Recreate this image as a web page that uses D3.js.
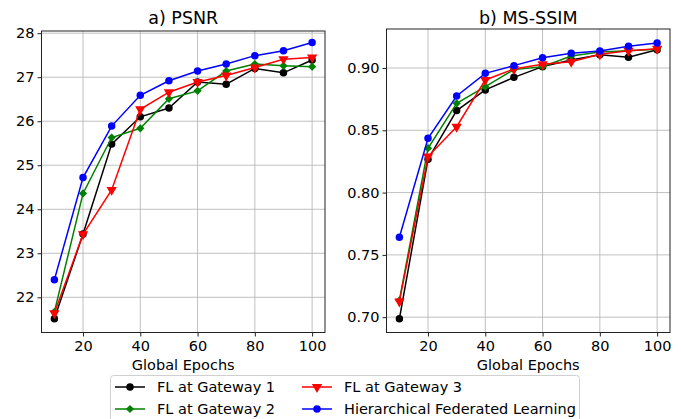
<!DOCTYPE html>
<html>
<head>
<meta charset="utf-8">
<style>
  body { margin: 0; background: #fff; }
  text { font-family: "DejaVu Sans", sans-serif; fill: #000; }
</style>
</head>
<body>
<div id="chart"></div>
<script src="https://d3js.org/d3.v7.min.js"></script>
<script>
// epochs on the x axis
var epochs = [10, 20, 30, 40, 50, 60, 70, 80, 90, 100];

// a) PSNR
var psnrGw1 = [21.51, 23.44, 25.48, 26.10, 26.30, 26.89, 26.84, 27.20, 27.10, 27.39];
var psnrGw2 = [21.67, 24.36, 25.63, 25.84, 26.51, 26.69, 27.14, 27.30, 27.26, 27.24];
var psnrGw3 = [21.64, 23.43, 24.44, 26.27, 26.66, 26.89, 27.04, 27.22, 27.41, 27.45];
var psnrHfl = [22.40, 24.72, 25.89, 26.59, 26.92, 27.14, 27.30, 27.49, 27.60, 27.79];

// b) MS-SSIM
var ssimGw1 = [0.6987, 0.8268, 0.8658, 0.8824, 0.8925, 0.9011, 0.9064, 0.9107, 0.9086, 0.9147];
var ssimGw2 = [0.7134, 0.8356, 0.8717, 0.8850, 0.8987, 0.9010, 0.9096, 0.9128, 0.9139, 0.9150];
var ssimGw3 = [0.7126, 0.8289, 0.8529, 0.8904, 0.8992, 0.9030, 0.9050, 0.9110, 0.9139, 0.9155];
var ssimHfl = [0.7642, 0.8436, 0.8775, 0.8957, 0.9019, 0.9083, 0.9118, 0.9136, 0.9174, 0.9200];

var xTicks = [20, 40, 60, 80, 100];
var psnrTicks = [22, 23, 24, 25, 26, 27, 28];
var ssimTicks = [0.70, 0.75, 0.80, 0.85, 0.90];

var seriesNames = ["FL at Gateway 1", "FL at Gateway 2", "FL at Gateway 3", "Hierarchical Federated Learning"];
var seriesColors = ["black", "green", "red", "blue"];

var svg = d3.select("#chart")
  .append("svg")
  .attr("width", 681)
  .attr("height", 419);

// marker paths, matplotlib style: o, D, v, o
function markerPath(i) {
  if (i == 1) return d3.symbol().type(d3.symbolSquare).size(34)();
  if (i == 2) return d3.symbol().type(d3.symbolTriangle).size(46)();
  return d3.symbol().type(d3.symbolCircle).size(44)();
}
function markerRotate(i) {
  if (i == 1) return 45;
  if (i == 2) return 180;
  return 0;
}

function drawPanel(opts) {
  var x = d3.scaleLinear().domain([5.5, 104.5]).range([opts.left, opts.right]);
  var y = d3.scaleLinear().domain(opts.yDomain).range([opts.bottom, opts.top]);
  var g = svg.append("g");

  // grid
  g.selectAll(".vgrid").data(xTicks).enter().append("line")
    .attr("x1", function(d) { return x(d); }).attr("x2", function(d) { return x(d); })
    .attr("y1", opts.top).attr("y2", opts.bottom)
    .attr("stroke", "#b0b0b0").attr("stroke-width", 0.8);
  g.selectAll(".hgrid").data(opts.yTicks).enter().append("line")
    .attr("x1", opts.left).attr("x2", opts.right)
    .attr("y1", function(d) { return y(d); }).attr("y2", function(d) { return y(d); })
    .attr("stroke", "#b0b0b0").attr("stroke-width", 0.8);

  // axes
  var xAxis = g.append("g")
    .attr("transform", "translate(0," + opts.bottom + ")")
    .call(d3.axisBottom(x).tickValues(xTicks).tickSize(4).tickPadding(4));
  var yAxis = g.append("g")
    .attr("transform", "translate(" + opts.left + ",0)")
    .call(d3.axisLeft(y).tickValues(opts.yTicks).tickSize(4).tickPadding(3).tickFormat(opts.fmt));
  [xAxis, yAxis].forEach(function(a) {
    a.select(".domain").remove();
    a.selectAll("text").style("font-size", "14.5px").style("font-family", "DejaVu Sans");
    a.selectAll("line").attr("stroke", "#222");
  });

  // series
  opts.series.forEach(function(vals, i) {
    var pts = epochs.map(function(e, k) { return [e, vals[k]]; });
    g.append("path")
      .datum(pts)
      .attr("fill", "none")
      .attr("stroke", seriesColors[i])
      .attr("stroke-width", 1.5)
      .attr("d", d3.line().x(function(d) { return x(d[0]); }).y(function(d) { return y(d[1]); }));
    g.selectAll(".m" + i).data(pts).enter().append("path")
      .attr("d", markerPath(i))
      .attr("fill", seriesColors[i])
      .attr("transform", function(d) {
        return "translate(" + x(d[0]) + "," + y(d[1]) + ") rotate(" + markerRotate(i) + ")";
      });
  });

  // frame
  g.append("rect")
    .attr("x", opts.left).attr("y", opts.top)
    .attr("width", opts.right - opts.left).attr("height", opts.bottom - opts.top)
    .attr("fill", "none").attr("stroke", "#222").attr("stroke-width", 1);

  // title and x label
  g.append("text")
    .attr("x", (opts.left + opts.right) / 2).attr("y", 23.5)
    .attr("text-anchor", "middle").style("font-size", "17.5px")
    .text(opts.title);
  g.append("text")
    .attr("x", (opts.left + opts.right) / 2).attr("y", 370)
    .attr("text-anchor", "middle").style("font-size", "14.5px")
    .text("Global Epochs");
}

drawPanel({
  left: 41.5, right: 325, top: 31, bottom: 332.5,
  yDomain: [21.2, 28.05], yTicks: psnrTicks,
  fmt: d3.format("d"), title: "a) PSNR",
  series: [psnrGw1, psnrGw2, psnrGw3, psnrHfl]
});

drawPanel({
  left: 386.5, right: 670, top: 29, bottom: 332.5,
  yDomain: [0.6877, 0.9313], yTicks: ssimTicks,
  fmt: d3.format(".2f"), title: "b) MS-SSIM",
  series: [ssimGw1, ssimGw2, ssimGw3, ssimHfl]
});

// legend
var legend = svg.append("g");
legend.append("rect")
  .attr("x", 110.5).attr("y", 375.5).attr("width", 469).attr("height", 60)
  .attr("rx", 3)
  .attr("fill", "#fff").attr("stroke", "#d0d0d0").attr("stroke-width", 1);

var legendPos = [[115, 387], [115, 409], [302, 387], [302, 409]];
seriesNames.forEach(function(name, i) {
  var p = legendPos[i];
  legend.append("line")
    .attr("x1", p[0]).attr("x2", p[0] + 30).attr("y1", p[1]).attr("y2", p[1])
    .attr("stroke", seriesColors[i]).attr("stroke-width", 1.5);
  legend.append("path")
    .attr("d", markerPath(i))
    .attr("fill", seriesColors[i])
    .attr("transform", "translate(" + (p[0] + 15) + "," + p[1] + ") rotate(" + markerRotate(i) + ")");
  legend.append("text")
    .attr("x", p[0] + 42).attr("y", p[1] + 5)
    .style("font-size", "14.5px")
    .text(name);
});
</script>
</body>
</html>
